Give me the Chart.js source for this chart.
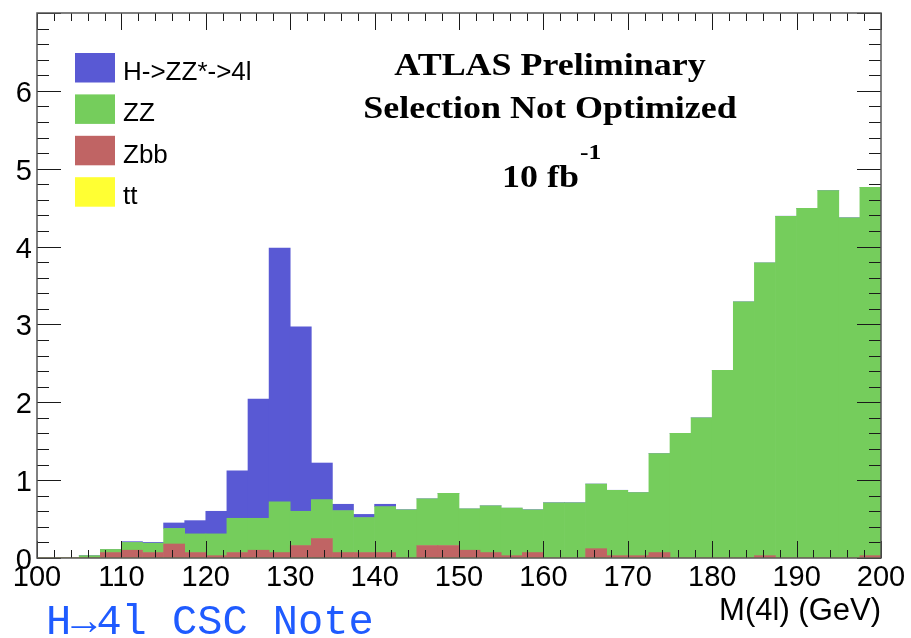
<!DOCTYPE html>
<html>
<head>
<meta charset="utf-8">
<script src="https://cdn.jsdelivr.net/npm/chart.js@4.4.0/dist/chart.umd.min.js"></script>
<style>
  html, body { margin: 0; padding: 0; background: #fff; }
  #wrap { width: 911px; height: 638px; }
</style>
</head>
<body>
<div id="wrap"><canvas id="m4lChart"></canvas></div>
<script>
// M(4l) bins, 2.5 GeV wide, given by their centres (GeV)
var binCenters = [101.25, 103.75, 106.25, 108.75, 111.25, 113.75, 116.25, 118.75, 121.25, 123.75,
                  126.25, 128.75, 131.25, 133.75, 136.25, 138.75, 141.25, 143.75, 146.25, 148.75,
                  151.25, 153.75, 156.25, 158.75, 161.25, 163.75, 166.25, 168.75, 171.25, 173.75,
                  176.25, 178.75, 181.25, 183.75, 186.25, 188.75, 191.25, 193.75, 196.25, 198.75];

// events per bin, each sample on its own (they get stacked)
var higgs = [0, 0, 0, 0, 0.01, 0.01, 0.07, 0.17, 0.29, 0.61,
             1.53, 3.26, 2.37, 0.47, 0.08, 0.04, 0.03, 0, 0, 0,
             0, 0, 0, 0, 0, 0, 0, 0, 0, 0,
             0, 0, 0, 0, 0, 0, 0, 0, 0, 0];
var zz = [0, 0, 0.03, 0.04, 0.10, 0.12, 0.20, 0.24, 0.28, 0.44,
          0.41, 0.65, 0.44, 0.50, 0.54, 0.45, 0.59, 0.62, 0.60, 0.67,
          0.53, 0.60, 0.61, 0.55, 0.71, 0.71, 0.83, 0.84, 0.81, 1.27,
          1.60, 1.80, 2.41, 3.29, 3.76, 4.39, 4.49, 4.72, 4.37, 4.73];
var zbb = [0, 0, 0, 0.07, 0.10, 0.07, 0.18, 0.07, 0.03, 0.07,
           0.10, 0.07, 0.16, 0.25, 0.07, 0.07, 0.07, 0, 0.16, 0.16,
           0.10, 0.07, 0.03, 0.07, 0, 0, 0.12, 0.03, 0.03, 0.07,
           0, 0, 0, 0, 0.03, 0, 0, 0, 0, 0.03];
var ttbar = [0, 0, 0, 0, 0, 0, 0, 0, 0, 0,
             0, 0, 0, 0, 0, 0, 0, 0, 0, 0,
             0, 0, 0, 0, 0, 0, 0, 0, 0, 0,
             0, 0, 0, 0, 0, 0, 0, 0, 0, 0];

var sampleNames = ['tt', 'Zbb', 'ZZ', 'H->ZZ*->4l'];
var sampleColors = ['#ffff33', '#c06464', '#75cd5c', '#5959d4'];
var xMin = 100, xMax = 200, yMin = 0, yMax = 7;

function toPoints(vals) {
    return binCenters.map((c, i) => ({ x: c, y: vals[i] }));
}

// ROOT style frame: inward ticks on all four sides
const rootFrame = {
    id: 'rootFrame',
    afterDatasetsDraw(chart) {
        const { ctx, chartArea: a, scales: { x, y } } = chart;
        ctx.save();
        ctx.strokeStyle = '#1a1a1a';
        ctx.lineWidth = 1;
        ctx.beginPath();
        for (let v = xMin; v <= xMax; v += 2) {
            const px = Math.round(x.getPixelForValue(v)) + 0.5;
            const len = v % 10 === 0 ? 17 : 8;
            ctx.moveTo(px, a.bottom); ctx.lineTo(px, a.bottom - len);
            ctx.moveTo(px, a.top); ctx.lineTo(px, a.top + len);
        }
        for (let i = 0; i <= 35; i++) {
            const py = Math.round(y.getPixelForValue(i * 0.2)) + 0.5;
            const len = i % 5 === 0 ? 24 : 12;
            ctx.moveTo(a.left, py); ctx.lineTo(a.left + len, py);
            ctx.moveTo(a.right, py); ctx.lineTo(a.right - len, py);
        }
        ctx.stroke();
        ctx.strokeStyle = '#555';
        ctx.lineWidth = 1.5;
        ctx.strokeRect(a.left, a.top, a.right - a.left, a.bottom - a.top);
        ctx.restore();
    }
};

// legend box in the top left corner of the frame, top sample first
const boxLegend = {
    id: 'boxLegend',
    afterDraw(chart) {
        const ctx = chart.ctx;
        const sets = chart.data.datasets.slice().reverse();
        ctx.save();
        ctx.font = '26px "Liberation Sans", Arial, sans-serif';
        ctx.textBaseline = 'alphabetic';
        sets.forEach((ds, i) => {
            const top = 53 + i * 41.4;
            ctx.fillStyle = ds.backgroundColor;
            ctx.fillRect(75, top, 40, 29.5);
            ctx.fillStyle = '#000';
            ctx.fillText(ds.label, 123, top + 27);
        });
        ctx.restore();
    }
};

function stretchedText(ctx, str, x, y, align, font) {
    ctx.save();
    ctx.font = font;
    ctx.textAlign = align;
    ctx.translate(x, y);
    ctx.scale(1.16, 1);
    ctx.fillText(str, 0, 0);
    ctx.restore();
}

const labels = {
    id: 'labels',
    afterDraw(chart) {
        const ctx = chart.ctx;
        ctx.save();
        ctx.fillStyle = '#000';
        ctx.textBaseline = 'alphabetic';
        const serif = '"Liberation Serif", "Times New Roman", serif';
        stretchedText(ctx, 'ATLAS Preliminary', 550, 75, 'center', 'bold 31px ' + serif);
        stretchedText(ctx, 'Selection Not Optimized', 550, 118, 'center', 'bold 31px ' + serif);
        stretchedText(ctx, '10 fb', 502, 187, 'left', 'bold 31px ' + serif);
        stretchedText(ctx, '-1', 580, 159, 'left', 'bold 22px ' + serif);

        ctx.fillStyle = '#1f5bff';
        ctx.font = '42px "Liberation Mono", "Courier New", monospace';
        ctx.textAlign = 'left';
        ctx.fillText('H\u21924l CSC Note', 46, 634);
        ctx.restore();
    }
};

const ctx = document.getElementById('m4lChart').getContext('2d');
new Chart(ctx, {
    type: 'bar',
    data: {
        datasets: [ttbar, zbb, zz, higgs].map((vals, i) => ({
            label: sampleNames[i],
            data: toPoints(vals),
            backgroundColor: sampleColors[i],
            borderWidth: 0,
            barPercentage: 1.0,
            categoryPercentage: 1.0,
        })),
    },
    options: {
        responsive: true,
        maintainAspectRatio: false,
        animation: false,
        layout: { padding: { left: 0, top: 13, right: 30, bottom: 0 } },
        plugins: {
            legend: { display: false },
            tooltip: { enabled: false },
        },
        scales: {
            x: {
                type: 'linear',
                min: xMin,
                max: xMax,
                offset: false,
                stacked: true,
                grid: { display: false, drawTicks: false, offset: false },
                border: { display: false },
                ticks: {
                    stepSize: 10,
                    padding: 3,
                    maxRotation: 0,
                    color: '#000',
                    font: { family: '"Liberation Sans", Arial, sans-serif', size: 29 },
                },
                title: {
                    display: true,
                    text: 'M(4l) (GeV)',
                    align: 'end',
                    color: '#000',
                    padding: { top: 0, bottom: 8 },
                    font: { family: '"Liberation Sans", Arial, sans-serif', size: 31 },
                },
                afterFit(scale) {
                    scale.height = 80;
                    scale.paddingLeft = 0;
                    scale.paddingRight = 0;
                },
            },
            y: {
                min: yMin,
                max: yMax,
                stacked: true,
                grid: { display: false, drawTicks: false },
                border: { display: false },
                ticks: {
                    stepSize: 1,
                    padding: 5,
                    labelOffset: 3,
                    color: '#000',
                    font: { family: '"Liberation Sans", Arial, sans-serif', size: 29 },
                    callback: (v) => (v === yMax ? '' : v),
                },
                afterFit(scale) {
                    scale.width = 37;
                    scale.paddingTop = 0;
                    scale.paddingBottom = 0;
                },
            },
        },
    },
    plugins: [rootFrame, boxLegend, labels],
});
</script>
</body>
</html>
